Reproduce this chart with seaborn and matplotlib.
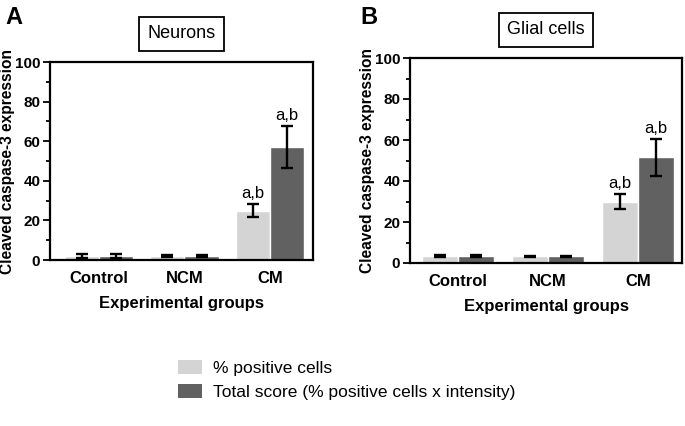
import pandas as pd
import matplotlib.pyplot as plt
import seaborn as sns
from matplotlib.patches import Patch

groups = ["Control", "NCM", "CM"]
series = ["% positive cells", "Total score (% positive cells x intensity)"]

neurons_pos = [2.0, 2.0, 25.0]
neurons_pos_err = [1.0, 0.3, 3.3]
neurons_total = [2.0, 2.0, 57.0]
neurons_total_err = [1.0, 0.3, 10.5]

glial_pos = [3.3, 3.2, 30.0]
glial_pos_err = [0.5, 0.3, 3.7]
glial_total = [3.3, 3.2, 51.5]
glial_total_err = [0.5, 0.3, 9.0]

sig_label = "a,b"
colors = ["#d4d4d4", "#616161"]

sns.set_style("ticks")
plt.rcParams['font.family'] = ['Liberation Sans', 'DejaVu Sans']
plt.rcParams.update({"text.color": "black", "axes.labelcolor": "black",
                     "xtick.color": "black", "ytick.color": "black",
                     "axes.edgecolor": "black"})


def make_df(pos, total):
    return pd.DataFrame({
        "group": groups * 2,
        "series": [series[0]] * 3 + [series[1]] * 3,
        "value": list(pos) + list(total),
    })


def panel(ax, pos, pos_err, total, total_err, title, xlim):
    df = make_df(pos, total)
    sns.barplot(data=df, x="group", y="value", hue="series", order=groups,
                hue_order=series, palette=colors, width=0.8, errorbar=None,
                saturation=1, legend=False, ax=ax)
    errs = list(pos_err) + list(total_err)
    vals = list(pos) + list(total)
    for bar, v, e in zip(ax.patches, vals, errs):
        xc = bar.get_x() + bar.get_width() / 2
        ax.errorbar(xc, v, yerr=e, color="black", lw=1.7, capsize=4, capthick=1.7)
    # significance labels on CM bars
    for i in (2, 5):
        bar = ax.patches[i]
        xc = bar.get_x() + bar.get_width() / 2
        ax.text(xc, vals[i] + errs[i] + 1.5, sig_label, ha="center", va="bottom", fontsize=12)
    ax.set_ylim(0, 100)
    ax.set_xlim(*xlim)
    ax.set_yticks(range(0, 101, 20))
    ax.set_yticks(range(10, 100, 20), minor=True)
    ax.tick_params(axis="y", which="major", length=5, width=1.3, labelsize=11, pad=2)
    ax.tick_params(axis="y", which="minor", length=3, width=1.3)
    ax.tick_params(axis="x", length=0, labelsize=12, pad=8)
    for lab in ax.get_xticklabels() + ax.get_yticklabels():
        lab.set_fontweight("bold")
    for sp in ax.spines.values():
        sp.set_linewidth(1.6)
    ax.set_xlabel("Experimental groups", fontsize=12, fontweight="bold", labelpad=7)
    ax.set_ylabel("Cleaved caspase-3 expression", fontsize=11.2, fontweight="bold", labelpad=0)
    ax.set_title(title, fontsize=13, pad=17,
                 bbox=dict(facecolor="white", edgecolor="black", linewidth=1.3, pad=6))
    return ax


fig = plt.figure(figsize=(6.85, 4.26), dpi=100)
ax1 = fig.add_axes([50 / 685, 1 - 260 / 426, 263 / 685, 198 / 426])
ax2 = fig.add_axes([410 / 685, 1 - 263 / 426, 272 / 685, 205 / 426])

panel(ax1, neurons_pos, neurons_pos_err, neurons_total, neurons_total_err,
      "Neurons", (-0.57, 2.5))
panel(ax2, glial_pos, glial_pos_err, glial_total, glial_total_err,
      "Glial cells", (-0.53, 2.49))

fig.text(5 / 685, 1 - 6 / 426, "A", fontsize=17, fontweight="bold", va="top", ha="left")
fig.text(360 / 685, 1 - 6 / 426, "B", fontsize=17, fontweight="bold", va="top", ha="left")

handles = [Patch(facecolor=colors[0], edgecolor="none"),
           Patch(facecolor=colors[1], edgecolor="none")]
fig.legend(handles, series, loc="upper left", bbox_to_anchor=(178 / 685, 1 - 360 / 426),
           frameon=False, fontsize=12.5, handlelength=1.4, handleheight=0.9,
           handletextpad=0.63, labelspacing=0.45, borderpad=0, borderaxespad=0)

fig.savefig("out.png", dpi=100)
